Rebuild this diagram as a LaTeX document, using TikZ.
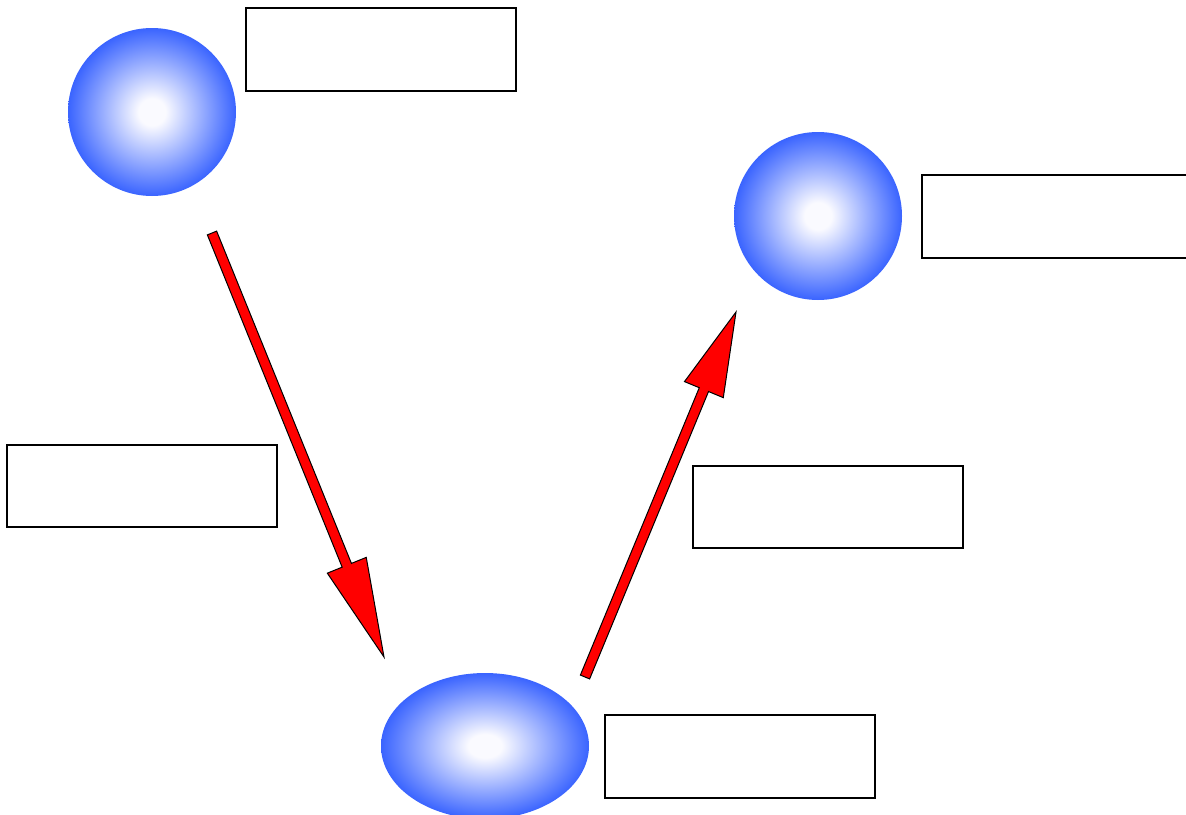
\documentclass[tikz,border=0pt]{standalone}
\usetikzlibrary{calc,shapes.geometric}
\definecolor{ballblue}{RGB}{58,100,255}
\definecolor{ballwhite}{RGB}{250,250,255}
\pgfdeclareradialshading{ballshade}{\pgfpoint{0bp}{0bp}}{%
  color(0bp)=(ballwhite); color(4bp)=(ballwhite); color(25bp)=(ballblue); color(50bp)=(ballblue)}
\tikzset{
  ball/.style={shading=ballshade, draw=none},
  labelbox/.style={draw=black, line width=1.2pt, fill=white},
  fatarrow/.style={draw=black, line width=1pt, fill=red, line join=miter},
}
\newcommand\redarrow[3]{% start, tip, head length
  \coordinate (hb) at ($(#2)!#3pt!(#1)$);
  \path[fatarrow]
    ($(#1)!5pt!90:(#2)$) -- ($(hb)!5pt!90:(#2)$) -- ($(hb)!21pt!90:(#2)$)
    -- (#2) -- ($(hb)!21pt!-90:(#2)$) -- ($(hb)!5pt!-90:(#2)$)
    -- ($(#1)!5pt!-90:(#2)$) -- cycle;
}
\begin{document}
\begin{tikzpicture}[x=1pt,y=-1pt]
  \useasboundingbox (0,0) rectangle (1186,814);
  \clip (0,0) rectangle (1186,814);
  % balls
  \path[ball] (152,112) circle[radius=84];
  \node[circle, minimum size=168pt, inner sep=0pt] (b1) at (152,112) {};
  \path[ball] (818,216) circle[radius=84];
  \node[circle, minimum size=168pt, inner sep=0pt] (b2) at (818,216) {};
  \path[ball] (485,746) ellipse[x radius=104, y radius=73];
  \node[ellipse, minimum width=208pt, minimum height=146pt, inner sep=0pt] (b3) at (485,746) {};
  % label boxes
  \path[labelbox] (246,8) rectangle (516,91);
  \node (l1) at (381,49.5) {};
  \path[labelbox] (922,175) rectangle (1192,258);
  \node (l2) at (1057,216.5) {};
  \path[labelbox] (7,445) rectangle (277,527);
  \node (l3) at (142,486) {};
  \path[labelbox] (693,466) rectangle (963,548);
  \node (l4) at (828,507) {};
  \path[labelbox] (605,715) rectangle (875,798);
  \node (l5) at (740,756.5) {};
  % arrows
  \coordinate (a1s) at (212,233);
  \coordinate (a1t) at (384,657);
  \redarrow{a1s}{a1t}{99}
  \coordinate (a2s) at (585,677);
  \coordinate (a2t) at (736,312);
  \redarrow{a2s}{a2t}{84}
\end{tikzpicture}
\end{document}
